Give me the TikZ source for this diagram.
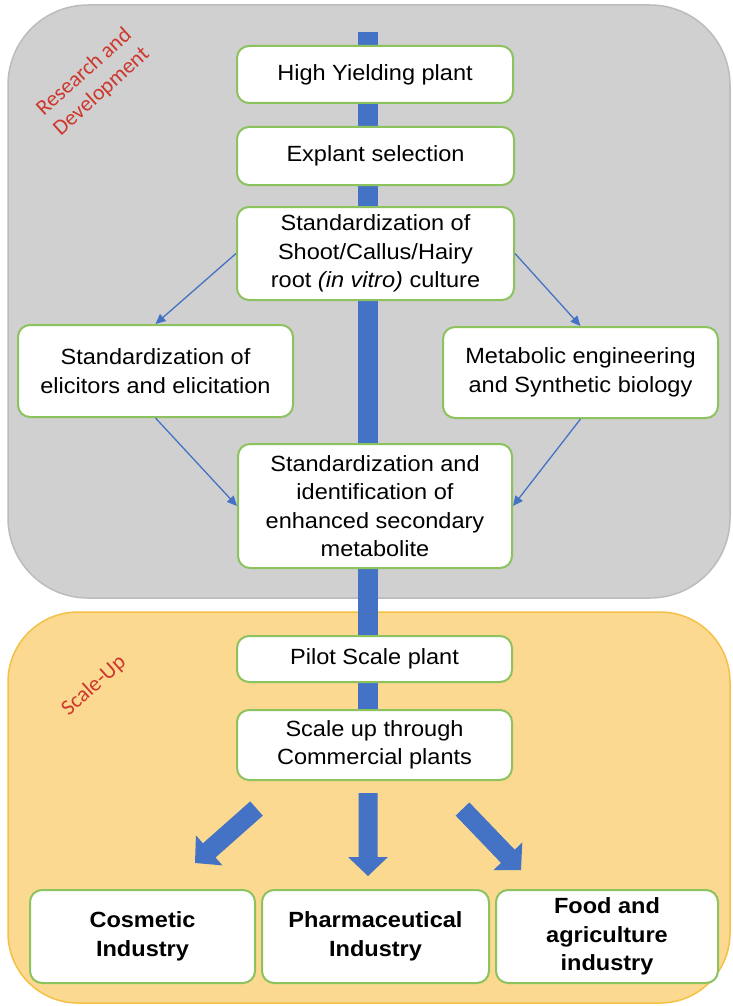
\documentclass[tikz,border=0pt]{standalone}
\usepackage{fontspec}
\setmainfont[FakeStretch=1.07]{Liberation Sans}
\newfontfamily\calib{Carlito}
\usetikzlibrary{arrows.meta,calc}
\definecolor{panelgray}{RGB}{208,208,208}
\definecolor{panelgrayline}{RGB}{188,188,188}
\definecolor{panelorange}{RGB}{252,217,145}
\definecolor{panelorangeline}{RGB}{245,192,70}
\definecolor{barblue}{RGB}{68,114,196}
\definecolor{boxgreen}{RGB}{140,195,95}
\definecolor{labred}{RGB}{205,55,45}
\tikzset{
  stepbox/.style={draw=boxgreen, line width=2pt, fill=white, rounded corners=12pt,
    align=center, inner sep=0pt, font=\fontsize{22}{28.5}\selectfont},
  bigbox/.style={stepbox, font=\bfseries\fontsize{22}{28.5}\selectfont},
  thinarrow/.style={draw=barblue, line width=1.3pt, -{Triangle[length=10pt,width=9pt]}},
  sectionlabel/.style={text=labred, font=\calib\fontsize{22}{26}\selectfont, align=center, rotate=42}
}
\newcommand\fatarr[2]{%
  \coordinate (fah) at ($(#2)!19pt!(#1)$);
  \fill[barblue] ($(#1)!9.5pt!90:(#2)$) -- ($(fah)!9.5pt!-90:(#1)$) -- ($(fah)!20pt!-90:(#1)$)
     -- (#2) -- ($(fah)!20pt!90:(#1)$) -- ($(fah)!9.5pt!90:(#1)$) -- ($(#1)!9.5pt!-90:(#2)$) -- cycle;}
\begin{document}
\begin{tikzpicture}[x=1pt,y=-1pt]
\useasboundingbox (0,0) rectangle (732,1006);
% panels
\draw[fill=panelgray, draw=panelgrayline, line width=1.5pt, rounded corners=80pt] (8,5) rectangle (730,598);
\draw[fill=panelorange, draw=panelorangeline, line width=1.5pt, rounded corners=70pt] (8,612) rectangle (730,1003);
% central bar
\fill[barblue] (358,32) rectangle (378,775);
% labels
\node[sectionlabel] (rdlab) at (93,82) {Research and\\Development};
\node[sectionlabel] (sulab) at (94,686) {Scale-Up};
% boxes
\node[stepbox, minimum width=276pt, minimum height=57pt] (hy) at (375,74.5) {High Yielding plant};
\node[stepbox, minimum width=277pt, minimum height=58pt] (ex) at (375.5,156) {Explant selection};
\node[stepbox, minimum width=277pt, minimum height=93pt] (sh) at (375.5,253.5) {Standardization of\\Shoot/Callus/Hairy\\root \textit{(in vitro)} culture};
\node[stepbox, minimum width=275pt, minimum height=92pt] (el) at (155.5,371) {Standardization of\\elicitors and elicitation};
\node[stepbox, minimum width=275pt, minimum height=91pt] (me) at (580.5,372.5) {Metabolic engineering\\and Synthetic biology};
\node[stepbox, minimum width=274pt, minimum height=124pt] (st) at (375,506) {Standardization and\\identification of\\enhanced secondary\\metabolite};
\node[stepbox, minimum width=275pt, minimum height=46pt] (pi) at (374.5,659) {Pilot Scale plant};
\node[stepbox, minimum width=275pt, minimum height=70pt] (su) at (374.5,745) {Scale up through\\Commercial plants};
\node[bigbox, minimum width=225pt, minimum height=93pt] (co) at (142.5,936.5) {Cosmetic\\Industry};
\node[bigbox, minimum width=227pt, minimum height=93pt] (ph) at (375.5,936.5) {Pharmaceutical\\Industry};
\node[bigbox, minimum width=222pt, minimum height=93pt] (fo) at (607,936.5) {Food and\\agriculture\\industry};
% thin arrows
\draw[thinarrow] (sh.west) -- (el.north);
\draw[thinarrow] (sh.east) -- (me.north);
\draw[thinarrow] (el.south) -- (st.west);
\draw[thinarrow] (me.south) -- (st.east);
% fat arrows
\coordinate (ta) at (368,793); \coordinate (tb) at (368,876);
\coordinate (la) at (256.5,808.5); \coordinate (lb) at (195,863);
\coordinate (ra) at (462.5,809); \coordinate (rb) at (521,870);
\fatarr{ta}{tb}
\fatarr{la}{lb}
\fatarr{ra}{rb}
\end{tikzpicture}
\end{document}
